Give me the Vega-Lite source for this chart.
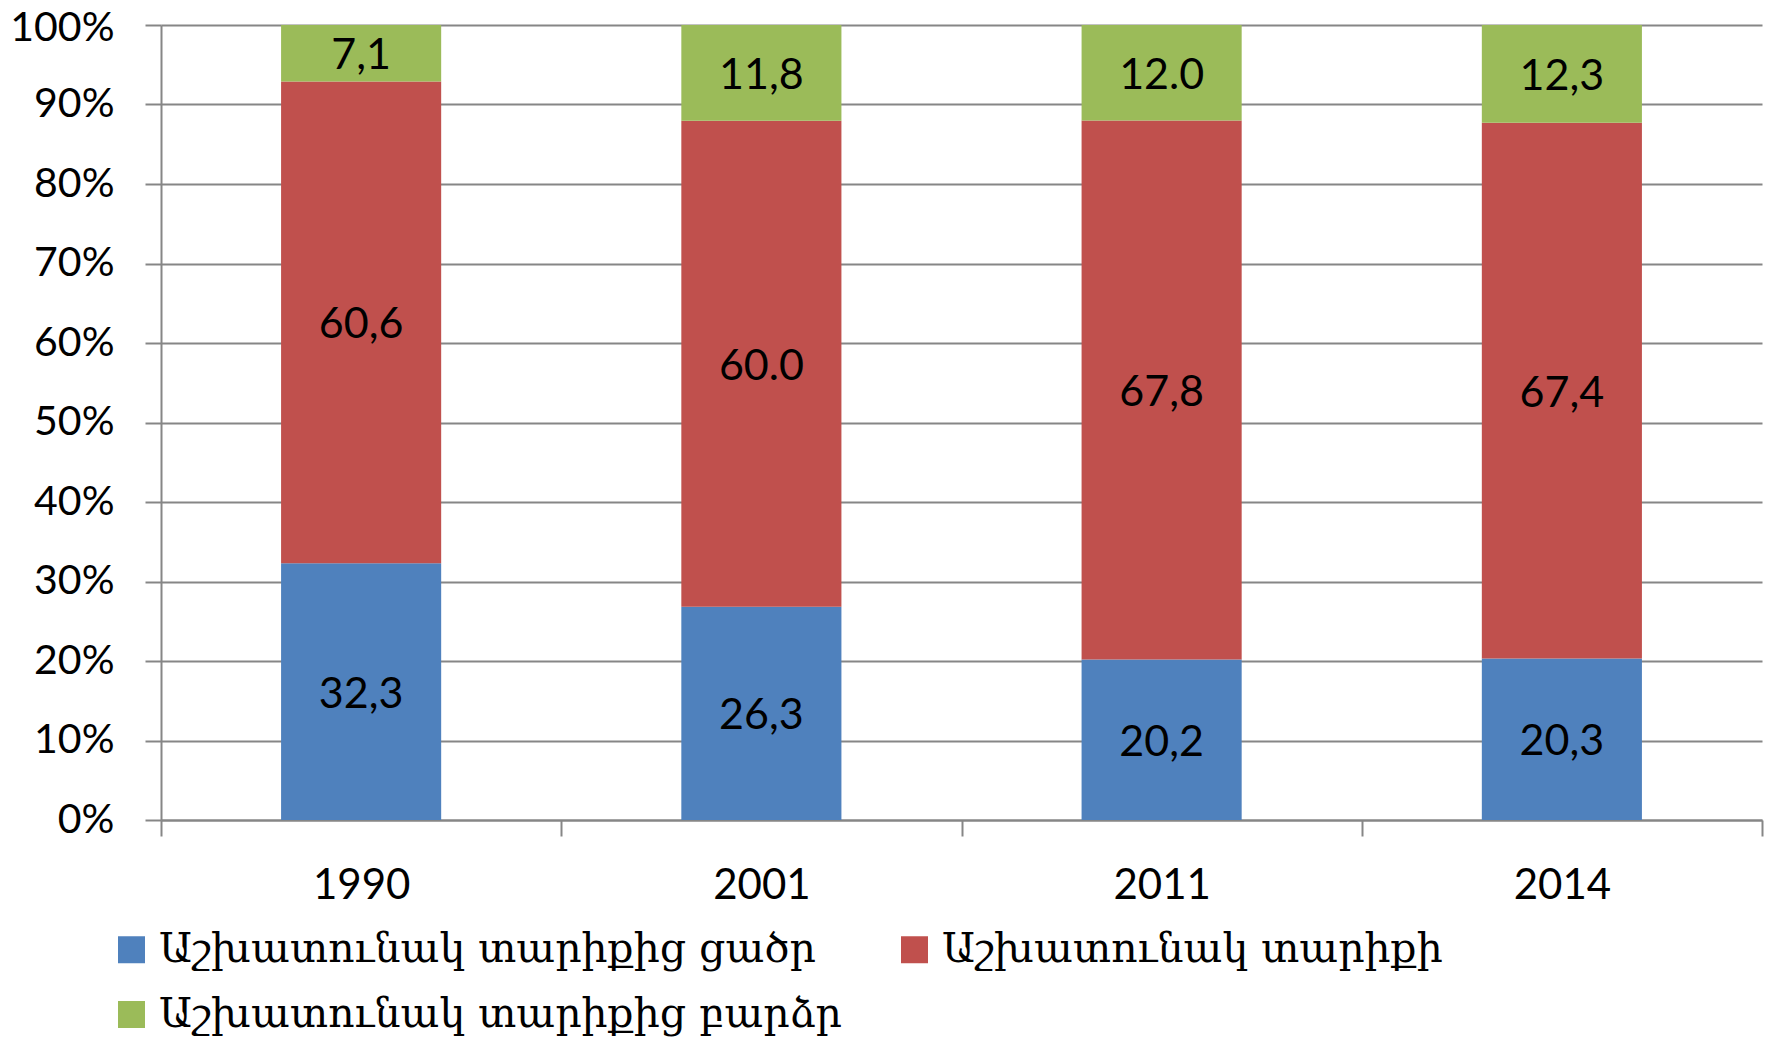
{
  "$schema": "https://vega.github.io/schema/vega-lite/v6.json",
  "width": 1601,
  "height": 795,
  "autosize": {"type": "none"},
  "padding": {"left": 161, "top": 25, "right": 7, "bottom": 222},
  "background": "white",
  "config": {"view": {"stroke": null}},
  "data": {
    "values": [
      {"year": "1990", "group": "Աշխատունակ տարիքից ցածր", "order": 1, "value": 32.3, "label": "32,3"},
      {"year": "1990", "group": "Աշխատունակ տարիքի", "order": 2, "value": 60.6, "label": "60,6"},
      {"year": "1990", "group": "Աշխատունակ տարիքից բարձր", "order": 3, "value": 7.1, "label": "7,1"},
      {"year": "2001", "group": "Աշխատունակ տարիքից ցածր", "order": 1, "value": 26.3, "label": "26,3"},
      {"year": "2001", "group": "Աշխատունակ տարիքի", "order": 2, "value": 60.0, "label": "60.0"},
      {"year": "2001", "group": "Աշխատունակ տարիքից բարձր", "order": 3, "value": 11.8, "label": "11,8"},
      {"year": "2011", "group": "Աշխատունակ տարիքից ցածր", "order": 1, "value": 20.2, "label": "20,2"},
      {"year": "2011", "group": "Աշխատունակ տարիքի", "order": 2, "value": 67.8, "label": "67,8"},
      {"year": "2011", "group": "Աշխատունակ տարիքից բարձր", "order": 3, "value": 12.0, "label": "12.0"},
      {"year": "2014", "group": "Աշխատունակ տարիքից ցածր", "order": 1, "value": 20.3, "label": "20,3"},
      {"year": "2014", "group": "Աշխատունակ տարիքի", "order": 2, "value": 67.4, "label": "67,4"},
      {"year": "2014", "group": "Աշխատունակ տարիքից բարձր", "order": 3, "value": 12.3, "label": "12,3"}
    ]
  },
  "transform": [
    {"stack": "value", "groupby": ["year"], "sort": [{"field": "order", "order": "ascending"}], "as": ["v0", "v1"], "offset": "normalize"},
    {"calculate": "(datum.v0 + datum.v1) / 2", "as": "mid"}
  ],
  "encoding": {
    "x": {
      "field": "year",
      "type": "nominal",
      "scale": {"paddingInner": 0, "paddingOuter": 0},
      "axis": {
        "title": null,
        "labelAngle": 0,
        "labelFont": "Lato",
        "labelFontSize": 42,
        "labelColor": "black",
        "labelPadding": 29,
        "tickBand": "extent",
        "tickSize": 16,
        "tickColor": "#868686",
        "tickWidth": 2,
        "domainColor": "#868686",
        "domainWidth": 2,
        "grid": false
      }
    }
  },
  "layer": [
    {
      "mark": {"type": "bar", "width": {"band": 0.4}},
      "encoding": {
        "y": {
          "field": "v0",
          "type": "quantitative",
          "scale": {"domain": [0, 1]},
          "axis": {
            "title": null,
            "format": ".0%",
            "values": [0, 0.1, 0.2, 0.3, 0.4, 0.5, 0.6, 0.7, 0.8, 0.9, 1],
            "labelFont": "Lato",
            "labelFontSize": 41,
            "labelColor": "black",
            "labelPadding": 31,
            "labelOffset": {"condition": {"test": "datum.value == 1", "value": 3}, "value": 0},
            "tickSize": 16,
            "tickColor": "#868686",
            "tickWidth": 2,
            "domainColor": "#868686",
            "domainWidth": 2,
            "grid": true,
            "gridColor": "#868686",
            "gridWidth": 2
          }
        },
        "y2": {"field": "v1"},
        "color": {
          "field": "group",
          "type": "nominal",
          "scale": {
            "domain": ["Աշխատունակ տարիքից ցածր", "Աշխատունակ տարիքի", "Աշխատունակ տարիքից բարձր"],
            "range": ["#4F81BD", "#C0504D", "#9BBB59"]
          },
          "legend": {
            "title": null,
            "orient": "none",
            "legendX": -50,
            "legendY": 904,
            "direction": "horizontal",
            "columns": 2,
            "columnPadding": 52,
            "rowPadding": 23,
            "symbolType": "square",
            "symbolSize": 729,
            "symbolStrokeWidth": 0,
            "labelFont": "DejaVu Serif",
            "labelFontSize": 41,
            "labelColor": "black",
            "labelLimit": 2000,
            "labelOffset": 7
          }
        }
      }
    },
    {
      "mark": {"type": "text", "font": "Lato", "fontSize": 43, "color": "black", "baseline": "middle", "align": "center", "dy": 3},
      "encoding": {
        "y": {"field": "mid", "type": "quantitative"},
        "text": {"field": "label"}
      }
    }
  ]
}
